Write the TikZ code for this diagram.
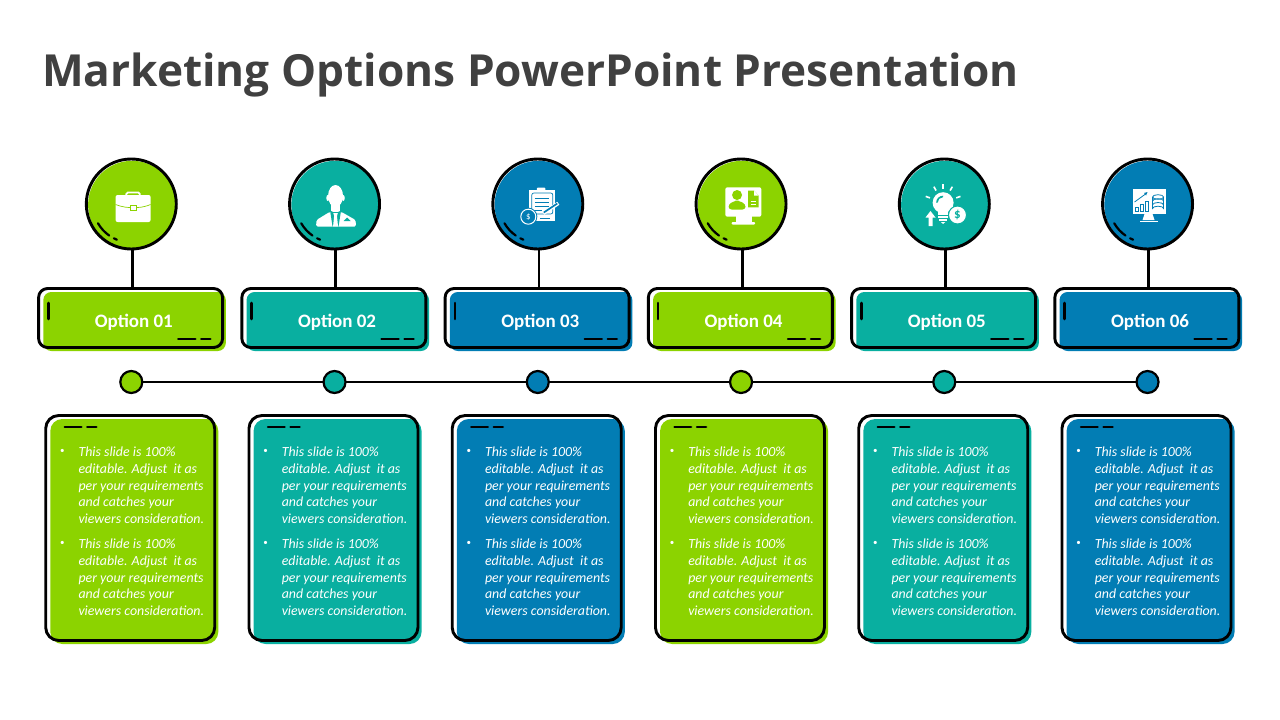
\documentclass[tikz,border=0pt]{standalone}
\usepackage{fontspec}
\setmainfont{Carlito}
\newfontfamily\titlefont{Open Sans}
\usepackage{xcolor}
\usetikzlibrary{positioning, calc}

\definecolor{optgreen}{HTML}{8CD300}
\definecolor{optteal}{HTML}{09AFA0}
\definecolor{optblue}{HTML}{027DB4}
\definecolor{titlegray}{HTML}{404040}

\newcommand{\optiontext}{This slide is 100\%\\editable. Adjust\ \ it as\\per your requirements\\and catches your\\viewers consideration.}

\tikzset{
    outline/.style={draw=black, line width=2.9pt},
    optcircle/.style={outline, circle, minimum size=90pt, inner sep=0pt},
    optbox/.style={outline, rounded corners=9pt, minimum width=184pt, minimum height=59pt, inner sep=0pt},
    textbox/.style={outline, rounded corners=13pt, minimum width=169pt, minimum height=225pt, inner sep=0pt},
    optdot/.style={outline, line width=2.2pt, circle, minimum size=22pt, inner sep=0pt},
    optlabel/.style={text=white, font=\fontsize{19}{21}\selectfont\bfseries},
    bodytext/.style={text=white, anchor=north west, align=left, inner sep=0pt, font=\fontsize{13.9}{16.85}\selectfont\itshape},
    bullet/.style={text=white, inner sep=0pt, font=\fontsize{9}{9}\selectfont},
    tickline/.style={line width=2.6pt, line cap=round},
    icon/.style={fill=white, draw=none}
}

\begin{document}
\begin{tikzpicture}[x=1pt, y=-1pt]
    \useasboundingbox (0,0) rectangle (1280,720);

    % ---------------------------------------------------
    % Title
    % ---------------------------------------------------
    \node[anchor=west, inner sep=0pt, text=titlegray, font=\fontsize{44.2}{48}\selectfont\titlefont\bfseries] (title) at (42,75) {Marketing Options PowerPoint Presentation};

    % ---------------------------------------------------
    % Timeline
    % ---------------------------------------------------
    \coordinate (linestart) at (131.3,382);
    \coordinate (lineend) at (1147.5,382);
    \draw[line width=2.9pt] (linestart) -- (lineend);

    % ---------------------------------------------------
    % The six columns
    % ---------------------------------------------------
    \foreach \i/\col in {1/optgreen, 2/optteal, 3/optblue, 4/optgreen, 5/optteal, 6/optblue} {
        \pgfmathsetmacro{\cx}{131.3+203.25*(\i-1)}

        % Circle with its offset fill
        \fill[\col] (\cx+0.8,204.8) circle[radius=44];
        \node[optcircle] (circ\i) at (\cx,204) {};

        % Box under the circle
        \fill[\col, rounded corners=8pt] (\cx-88,292) rectangle (\cx+94.5,351);
        \node[optbox] (optbox\i) at (\cx-0.7,318) {};
        \node[optlabel] (optlabel\i) at (\cx+2.5,322) {Option 0\i};
        \coordinate (stem\i) at (\cx+1.2,288);
        \draw[line width=2.9pt] (stem\i |- circ\i.south) -- (stem\i);
        \draw[tickline] (\cx-83,303) -- (\cx-83,319);
        \draw[tickline] (\cx+47,339) -- (\cx+64,339);
        \draw[tickline] (\cx+70,339) -- (\cx+79,339);

        % Dot on the timeline
        \node[optdot, fill=\col] (dot\i) at (\cx,382) {};

        % Text box
        \fill[\col, rounded corners=12pt] (\cx-81,419) rectangle (\cx+87,644);
        \node[textbox] (textbox\i) at (\cx-1.1,528) {};
        \draw[tickline] (\cx-66.5,427) -- (\cx-50,427);
        \draw[tickline] (\cx-44,427) -- (\cx-35,427);

        \node[bodytext] (para\i a) at (\cx-53,446.5) {\optiontext};
        \node[bodytext] (para\i b) at (\cx-53,538.5) {\optiontext};
        \node[bullet] (bul\i a) at (\cx-69,451.5) {•};
        \node[bullet] (bul\i b) at (\cx-69,543.5) {•};
    }

    % ---------------------------------------------------
    % Highlights on the circles (none on the fifth)
    % ---------------------------------------------------
    \foreach \i in {1,2,3,4,6} {
        \begin{scope}[shift={(circ\i.center)}]
            \draw[line width=2.2pt, line cap=round] (150:38.5) arc[start angle=150, end angle=125, radius=38.5];
            \draw[line width=2.2pt, line cap=round] (117:38.5) arc[start angle=117, end angle=112, radius=38.5];
        \end{scope}
    }

    % ---------------------------------------------------
    % Icon 1: briefcase
    % ---------------------------------------------------
    \begin{scope}[shift={(circ1.center)}]
        \draw[white, line width=1.8pt, rounded corners=1.5pt] (-5,-8) -- (-5,-11.5) -- (8.5,-11.5) -- (8.5,-8);
        \fill[icon, rounded corners=2pt] (-15.7,-9) rectangle (19.3,18);
        \draw[optgreen, line width=0.7pt] (-15.7,0.5) .. controls (-8,3.5) and (-3,3.5) .. (-0.5,3.5);
        \draw[optgreen, line width=0.7pt] (19.3,0.5) .. controls (12,3.5) and (7,3.5) .. (5,3.5);
        \draw[optgreen, fill=white, line width=0.8pt] (-0.5,1) rectangle (5,6);
    \end{scope}

    % ---------------------------------------------------
    % Icon 2: man in a suit
    % ---------------------------------------------------
    \begin{scope}[shift={(circ2.center)}]
        \fill[icon] (1,-8) ellipse[x radius=7.5, y radius=11];
        \fill[icon] (-6.8,-6) ellipse[x radius=1.4, y radius=3];
        \fill[icon] (8.8,-6) ellipse[x radius=1.4, y radius=3];
        \fill[icon] (-3.5,0) rectangle (5.5,9);
        \fill[icon, rounded corners=1.5pt] (-18.5,22.5) -- (-18,16) -- (-5,8) -- (7,8) -- (21,16) -- (21.5,22.5) -- cycle;
        \fill[optteal] (-4.5,6.5) -- (-1.5,8) -- (3.5,8) -- (6.5,6.5) -- (4,22.5) -- (-2,22.5) -- cycle;
        \fill[icon] (-1.3,9) -- (3.3,9) -- (2.4,12) -- (3.5,22.5) -- (-1.5,22.5) -- (-0.4,12) -- cycle;
        \fill[optteal] (9,17) -- (12.5,13.5) -- (16,17) -- cycle;
    \end{scope}

    % ---------------------------------------------------
    % Icon 3: clipboard, coin and pen
    % ---------------------------------------------------
    \begin{scope}[shift={(circ3.center)}]
        \fill[icon] (-8.5,-14) rectangle (17.5,16.7);
        \fill[icon, rounded corners=1pt] (-1,-16.5) rectangle (7.5,-11);
        \draw[optblue, line width=0.7pt, rounded corners=2pt] (-6,-11) rectangle (15,10);
        \foreach \ly in {-6,-2,2} {
            \draw[optblue, line width=0.7pt] (-3,\ly) -- (11,\ly);
        }
        \draw[optblue, line width=0.7pt] (-3,6) -- (4,6);
        \draw[white, line width=3.6pt] (5.5,9.3) -- (20.5,-0.7);
        \draw[optblue, line width=1.6pt] (6,8.5) -- (19.5,-0.5);
        \draw[optblue, line width=0.7pt] (2,14) -- (12,14);
        \fill[optblue] (-9.5,12.7) circle[radius=9];
        \draw[white, fill=optblue, line width=1pt] (-9.5,12.7) circle[radius=7.5];
        \node[text=white, inner sep=0pt, font=\fontsize{9}{9}\selectfont] (coin) at (-9.5,12.7) {\$};
    \end{scope}

    % ---------------------------------------------------
    % Icon 4: monitor with profile
    % ---------------------------------------------------
    \begin{scope}[shift={(circ4.center)}]
        \fill[icon, rounded corners=2pt] (-15.7,-16.7) rectangle (20.3,12.7);
        \fill[icon] (-5.5,12) rectangle (11,18.5);
        \fill[icon, rounded corners=1pt] (-9.5,18) rectangle (14,20.5);
        \fill[optgreen] (-4,-9) circle[radius=5];
        \fill[optgreen, rounded corners=3pt] (-12.5,5.5) -- (-12.5,0) -- (-5,-3.5) -- (-3,-3.5) -- (4.5,0) -- (4.5,5.5) -- cycle;
        \fill[optgreen] (7,-13.3) -- (13,-13.3) -- (17.6,-8.5) -- (17.6,3.3) -- (7,3.3) -- cycle;
        \fill[white] (13,-13.3) -- (13,-8.5) -- (17.6,-8.5) -- cycle;
        \draw[white, line width=0.9pt] (9.5,-3) -- (15,-3);
        \draw[white, line width=0.9pt] (9.5,0) -- (15,0);
    \end{scope}

    % ---------------------------------------------------
    % Icon 5: bulb, arrow and dollar
    % ---------------------------------------------------
    \begin{scope}[shift={(circ5.center)}]
        \fill[icon] (-1.2,-1.3) circle[radius=10.5];
        \fill[icon] (-6,5) rectangle (3.5,11);
        \fill[optteal] (-8.2,-1.3) arc[start angle=180, end angle=270, radius=7] -- ++(0,1.5) arc[start angle=270, end angle=180, radius=5.5] -- cycle;
        \draw[white, line width=1.4pt] (-6,13) -- (3.5,13);
        \draw[white, line width=1.4pt] (-5,16) -- (2.5,16);
        \fill[icon] (-3.5,18) -- (1,18) -- (-1.2,20) -- cycle;
        \foreach \ang in {200,240,270,300,340} {
            \draw[white, line width=1.6pt] (-1.2,-1.3) ++(\ang:14) -- ++(\ang:4.5);
        }
        \fill[icon] (-13.8,7) -- (-8.8,13.5) -- (-11.8,13.5) -- (-11.8,22) -- (-15.8,22) -- (-15.8,13.5) -- (-18.8,13.5) -- cycle;
        \draw[optteal, fill=white, line width=1pt] (13.2,11) circle[radius=9];
        \node[text=optteal, inner sep=0pt, font=\fontsize{13}{13}\selectfont\bfseries] (dollar) at (13.2,11) {\$};
    \end{scope}

    % ---------------------------------------------------
    % Icon 6: monitor with chart and database
    % ---------------------------------------------------
    \begin{scope}[shift={(circ6.center)}]
        \fill[icon] (-14.8,-14.7) rectangle (18.5,10);
        \fill[icon] (-3,10) -- (5,10) -- (7,16) -- (-5,16) -- cycle;
        \fill[icon] (-7.5,16.5) rectangle (10,18);
        \foreach \bx/\by in {-12.5/3, -7.5/0, -2.5/-3} {
            \draw[optblue, line width=0.7pt] (\bx,\by) rectangle (\bx+3.5,7);
        }
        \draw[optblue, line width=0.8pt] (-13,-2) -- (-2,-10);
        \fill[optblue] (0,-12) -- (-3.5,-11) -- (-1.5,-8.5) -- cycle;
        \draw[optblue, line width=0.8pt] (5,-7) arc[start angle=180, end angle=540, x radius=5.5, y radius=2.3];
        \draw[optblue, line width=0.8pt] (5,-7) -- (5,4.5) arc[start angle=180, end angle=360, x radius=5.5, y radius=2.3] -- (16,-7);
        \foreach \ly in {-3,0.8} {
            \draw[optblue, line width=0.8pt] (5,\ly) arc[start angle=180, end angle=360, x radius=5.5, y radius=2.3];
        }
    \end{scope}
\end{tikzpicture}
\end{document}
